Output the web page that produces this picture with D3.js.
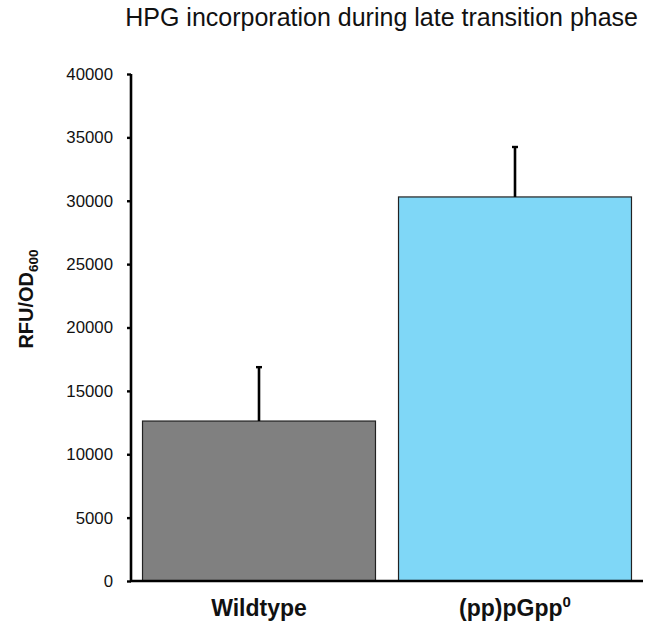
<!DOCTYPE html>
<html>
<head>
<meta charset="utf-8">
<script src="https://cdn.jsdelivr.net/npm/d3@7"></script>
<style>
  body { margin: 0; background: #fff; }
  text { font-family: Arial, "Liberation Sans", Helvetica, sans-serif; }
</style>
</head>
<body>
<div id="chart"></div>
<script>
// data
var strains = ["Wildtype", "(pp)pGpp"];
var rfu = [12620, 30300];
var rfuErr = [4330, 4020];
var barColors = ["#808080", "#7fd7f7"];
var yTicks = [0, 5000, 10000, 15000, 20000, 25000, 30000, 35000, 40000];

var width = 645, height = 627;
var margin = {top: 74, right: 2, bottom: 46, left: 131};

var svg = d3.select("#chart").append("svg")
  .attr("width", width)
  .attr("height", height);

var x = d3.scaleBand()
  .domain(strains)
  .range([margin.left, width - margin.right])
  .paddingInner(0.09)
  .paddingOuter(0.045);

var y = d3.scaleLinear()
  .domain([0, 40000])
  .range([height - margin.bottom, margin.top]);

// bars
svg.selectAll("rect.bar")
  .data(strains)
  .enter().append("rect")
    .attr("class", "bar")
    .attr("x", function(d) { return x(d); })
    .attr("y", function(d, i) { return y(rfu[i]); })
    .attr("width", x.bandwidth())
    .attr("height", function(d, i) { return y(0) - y(rfu[i]); })
    .attr("fill", function(d, i) { return barColors[i]; })
    .attr("stroke", "#222")
    .attr("stroke-width", 1.2);

// error bars (upper only)
var err = svg.append("g").attr("class", "errors");
strains.forEach(function(d, i) {
  var cx = x(d) + x.bandwidth() / 2;
  err.append("line")
    .attr("x1", cx).attr("x2", cx)
    .attr("y1", y(rfu[i])).attr("y2", y(rfu[i] + rfuErr[i]))
    .attr("stroke", "#000").attr("stroke-width", 2.6);
  err.append("line")
    .attr("x1", cx - 3).attr("x2", cx + 3)
    .attr("y1", y(rfu[i] + rfuErr[i]) + 1).attr("y2", y(rfu[i] + rfuErr[i]) + 1)
    .attr("stroke", "#000").attr("stroke-width", 2.4);
});

// y axis
var yAxis = svg.append("g")
  .attr("transform", "translate(" + margin.left + ",0)")
  .call(d3.axisLeft(y).tickValues(yTicks).tickSize(4).tickPadding(14).tickFormat(d3.format("d")));
yAxis.select(".domain").attr("stroke", "#000").attr("stroke-width", 2.6).attr("d", "M0," + y(40000) + "V" + y(0));
yAxis.selectAll(".tick line").attr("stroke", "#000").attr("stroke-width", 2.4);
yAxis.selectAll(".tick text").attr("font-size", 16.8).attr("fill", "#111").attr("font-family", "Arial, 'Liberation Sans', sans-serif");

// x axis
var xAxis = svg.append("g")
  .attr("transform", "translate(0," + y(0) + ")")
  .call(d3.axisBottom(x).tickSize(0).tickPadding(0).tickFormat(""));
xAxis.select(".domain").attr("stroke", "#000").attr("stroke-width", 2.6)
  .attr("d", "M" + (margin.left - 1) + ",0H" + (width - margin.right));

// x labels
var xl = svg.append("g").attr("class", "xlabels");
strains.forEach(function(d, i) {
  var t = xl.append("text")
    .attr("x", x(d) + x.bandwidth() / 2)
    .attr("y", 616)
    .attr("text-anchor", "middle")
    .attr("font-size", 23)
    .attr("font-weight", "bold")
    .attr("fill", "#111");
  t.append("tspan").text(d);
  if (i === 1) {
    t.append("tspan").attr("dy", -9).attr("font-size", 15).text("0");
  }
});

// y axis title
var yt = svg.append("text")
  .attr("transform", "translate(33,299) rotate(-90)")
  .attr("text-anchor", "middle")
  .attr("font-size", 20)
  .attr("font-weight", "bold")
  .attr("fill", "#111");
yt.append("tspan").text("RFU/OD");
yt.append("tspan").attr("dy", 5).attr("font-size", 13.5).text("600");

// chart title
svg.append("text")
  .attr("x", 638)
  .attr("y", 26)
  .attr("text-anchor", "end")
  .attr("font-size", 25)
  .attr("fill", "#111")
  .text("HPG incorporation during late transition phase");
</script>
</body>
</html>
